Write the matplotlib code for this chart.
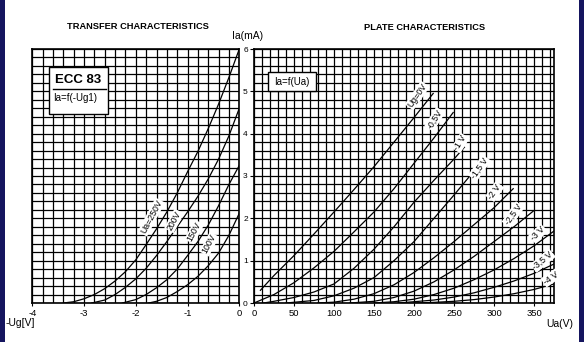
import matplotlib
matplotlib.use("Agg")
import matplotlib.pyplot as plt
import numpy as np

plt.rcParams['font.family'] = ['Liberation Sans', 'DejaVu Sans']

# ---------------- data ----------------
# Transfer characteristics: Ia (mA) vs -Ug (V)
ug_250 = [-3.40, -3.2, -3.0, -2.8, -2.6, -2.4, -2.2, -2.0, -1.8, -1.6, -1.4, -1.2, -1.0, -0.8, -0.6, -0.4, -0.2, 0.0]
ia_250 = [0.0, 0.03, 0.1, 0.2, 0.34, 0.52, 0.74, 1.02, 1.38, 1.75, 2.15, 2.6, 3.1, 3.58, 4.12, 4.7, 5.33, 6.0]
ug_200 = [-2.85, -2.6, -2.4, -2.2, -2.0, -1.8, -1.6, -1.4, -1.2, -1.0, -0.8, -0.6, -0.4, -0.2, 0.0]
ia_200 = [0.0, 0.07, 0.2, 0.37, 0.57, 0.82, 1.12, 1.45, 1.8, 2.15, 2.52, 2.93, 3.4, 3.95, 4.6]
ug_150 = [-2.26, -2.0, -1.8, -1.6, -1.4, -1.2, -1.0, -0.8, -0.6, -0.4, -0.2, 0.0]
ia_150 = [0.0, 0.08, 0.2, 0.36, 0.55, 0.8, 1.12, 1.45, 1.84, 2.3, 2.8, 3.25]
ug_100 = [-1.75, -1.6, -1.4, -1.2, -1.0, -0.8, -0.6, -0.4, -0.2, 0.0]
ia_100 = [0.0, 0.04, 0.13, 0.27, 0.43, 0.63, 0.88, 1.18, 1.6, 2.12]
transfer_labels = ["Ua=250V", "200V", "150V", "100V"]
transfer_label_x = [-1.70, -1.26, -0.87, -0.58]
transfer_label_y = [2.03, 1.94, 1.68, 1.39]

# Plate characteristics: Ia (mA) vs Ua (V)
ua_g0 = [8, 25, 50, 75, 100, 125, 150, 175, 200, 224]
ia_g0 = [0.3, 0.65, 1.12, 1.63, 2.15, 2.68, 3.22, 3.8, 4.38, 4.95]
ua_g05 = [0, 25, 50, 75, 100, 125, 150, 175, 200, 225, 249]
ia_g05 = [0.0, 0.2, 0.48, 0.83, 1.22, 1.68, 2.15, 2.7, 3.3, 3.9, 4.5]
ua_g1 = [12, 25, 50, 75, 100, 125, 150, 175, 200, 225, 249, 263]
ia_g1 = [0.0, 0.04, 0.13, 0.26, 0.45, 0.82, 1.27, 1.8, 2.38, 2.9, 3.38, 3.68]
ua_g15 = [40, 75, 100, 125, 150, 175, 200, 225, 250, 272]
ia_g15 = [0.0, 0.06, 0.17, 0.35, 0.6, 1.0, 1.45, 2.0, 2.55, 3.05]
ua_g2 = [80, 100, 125, 150, 175, 200, 225, 250, 275, 300, 324]
ia_g2 = [0.0, 0.02, 0.09, 0.22, 0.43, 0.72, 1.07, 1.45, 1.85, 2.25, 2.7]
ua_g25 = [120, 150, 175, 200, 225, 250, 275, 300, 325, 349]
ia_g25 = [0.0, 0.04, 0.13, 0.28, 0.5, 0.78, 1.1, 1.45, 1.8, 2.17]
ua_g3 = [150, 175, 200, 225, 250, 275, 300, 325, 350, 375]
ia_g3 = [0.0, 0.03, 0.09, 0.2, 0.35, 0.55, 0.78, 1.05, 1.35, 1.7]
ua_g35 = [180, 200, 225, 250, 275, 300, 325, 350, 375]
ia_g35 = [0.0, 0.03, 0.07, 0.14, 0.24, 0.37, 0.52, 0.7, 0.92]
ua_g4 = [200, 225, 250, 275, 300, 325, 350, 375]
ia_g4 = [0.0, 0.015, 0.04, 0.08, 0.14, 0.22, 0.32, 0.45]
plate_labels = ["Ug=0V", "-0,5V", "-1 V", "-1,5 V", "-2 V", "-2,5 V", "-3 V", "-3,5 V", "-4 V"]
plate_label_x = [204, 226, 258, 282, 301, 324, 355, 361, 371]
plate_label_y = [4.9, 4.34, 3.78, 3.19, 2.63, 2.09, 1.64, 1.0, 0.59]
plate_label_rot = [55, 58, 58, 55, 55, 55, 45, 40, 35]

left_xticks = [-4, -3, -2, -1, 0]
left_xticklabels = ["-4", "-3", "-2", "-1", "0"]
right_xticks = [0, 50, 100, 150, 200, 250, 300, 350]
yticks = [0, 1, 2, 3, 4, 5, 6]

# ---------------- figure ----------------
W, H = 584, 342
fig = plt.figure(figsize=(W / 100, H / 100), dpi=100)
fig.patch.set_facecolor('white')

def px_axes(x0, y0, x1, y1):
    return fig.add_axes([x0 / W, 1 - y1 / H, (x1 - x0) / W, (y1 - y0) / H])

axL = px_axes(32.3, 49, 239.3, 303)
axR = px_axes(254, 49, 554, 303)

grid_kw = dict(color='black', linewidth=0.9)
curve_kw = dict(color='black', linewidth=0.9, zorder=3)
fs_xtick = 6.8
fs_ytick = 6.0
fs_curve = 6.3

# Left axes
axL.set_xlim(-4, 0)
axL.set_ylim(0, 6)
for v in np.arange(-4, 0.001, 0.2):
    axL.axvline(v, **grid_kw, zorder=1)
for v in np.arange(0, 6.001, 0.2):
    axL.axhline(v, **grid_kw, zorder=1)
for xs, ys in [(ug_250, ia_250), (ug_200, ia_200), (ug_150, ia_150), (ug_100, ia_100)]:
    axL.plot(xs, ys, **curve_kw)
for t, x, y in zip(transfer_labels, transfer_label_x, transfer_label_y):
    axL.text(x, y, t, rotation=62, fontsize=fs_curve, ha='center', va='center', zorder=5,
             bbox=dict(facecolor='white', edgecolor='none', pad=0.6))
axL.set_xticks(left_xticks)
axL.set_xticklabels(left_xticklabels)
axL.set_yticks([])
axL.tick_params(axis='x', length=2, width=0.8, pad=2, labelsize=fs_xtick)
for s in axL.spines.values():
    s.set_linewidth(1.2)

# ECC 83 box
axL.add_patch(plt.Rectangle((-3.68, 4.47), 1.14, 1.11, facecolor='white', edgecolor='black',
                            linewidth=1.0, zorder=6))
axL.text(0.108, 0.877, "ECC 83", transform=axL.transAxes, fontsize=9.5, fontweight='bold',
         ha='left', va='center', zorder=7)
axL.plot([0.10, 0.356], [0.843, 0.843], transform=axL.transAxes, color='black', lw=1.0, zorder=7)
axL.text(0.10, 0.807, "Ia=f(-Ug1)", transform=axL.transAxes, fontsize=7,
         ha='left', va='center', zorder=7)

# Right axes
axR.set_xlim(0, 375)
axR.set_ylim(0, 6)
for v in np.arange(0, 371, 10):
    axR.axvline(v, **grid_kw, zorder=1)
for v in np.arange(0, 6.001, 0.2):
    axR.axhline(v, **grid_kw, zorder=1)
for xs, ys in [(ua_g0, ia_g0), (ua_g05, ia_g05), (ua_g1, ia_g1), (ua_g15, ia_g15),
               (ua_g2, ia_g2), (ua_g25, ia_g25), (ua_g3, ia_g3), (ua_g35, ia_g35), (ua_g4, ia_g4)]:
    axR.plot(xs, ys, **curve_kw)
for t, x, y, r in zip(plate_labels, plate_label_x, plate_label_y, plate_label_rot):
    axR.text(x, y, t, rotation=r, fontsize=fs_curve, ha='center', va='center', zorder=5,
             bbox=dict(facecolor='white', edgecolor='none', pad=0.6))
axR.set_xticks(right_xticks)
axR.set_yticks(yticks)
axR.tick_params(axis='x', length=2, width=0.8, pad=2, labelsize=fs_xtick)
axR.tick_params(axis='y', length=3, width=0.8, pad=1.5, labelsize=fs_ytick)
for s in axR.spines.values():
    s.set_linewidth(1.2)
axR.add_patch(plt.Rectangle((18, 5.01), 59, 0.45, facecolor='white', edgecolor='black',
                            linewidth=1.0, zorder=6))
axR.text(47, 5.23, "Ia=f(Ua)", fontsize=7, ha='center', va='center', zorder=7)

# Titles and axis labels
fig.text(137.5 / W, 1 - 26.5 / H, "TRANSFER CHARACTERISTICS", fontsize=6.7, fontweight='bold',
         ha='center', va='center')
fig.text(424.5 / W, 1 - 27 / H, "PLATE CHARACTERISTICS", fontsize=6.7, fontweight='bold',
         ha='center', va='center')
fig.text(248 / W, 1 - 36 / H, "Ia(mA)", fontsize=7.5, ha='center', va='center')
fig.text(6 / W, 1 - 323 / H, "-Ug[V]", fontsize=7.5, ha='left', va='center')
fig.text(560 / W, 1 - 324 / H, "Ua(V)", fontsize=7.5, ha='center', va='center')

# Dark side strips
fig.patches.append(plt.Rectangle((0, 0), 5 / W, 1, transform=fig.transFigure,
                                 facecolor='#15155f', edgecolor='none', zorder=10))
fig.patches.append(plt.Rectangle((1 - 5 / W, 0), 5 / W, 1, transform=fig.transFigure,
                                 facecolor='#15155f', edgecolor='none', zorder=10))

fig.savefig("out.png", dpi=100, facecolor='white')
